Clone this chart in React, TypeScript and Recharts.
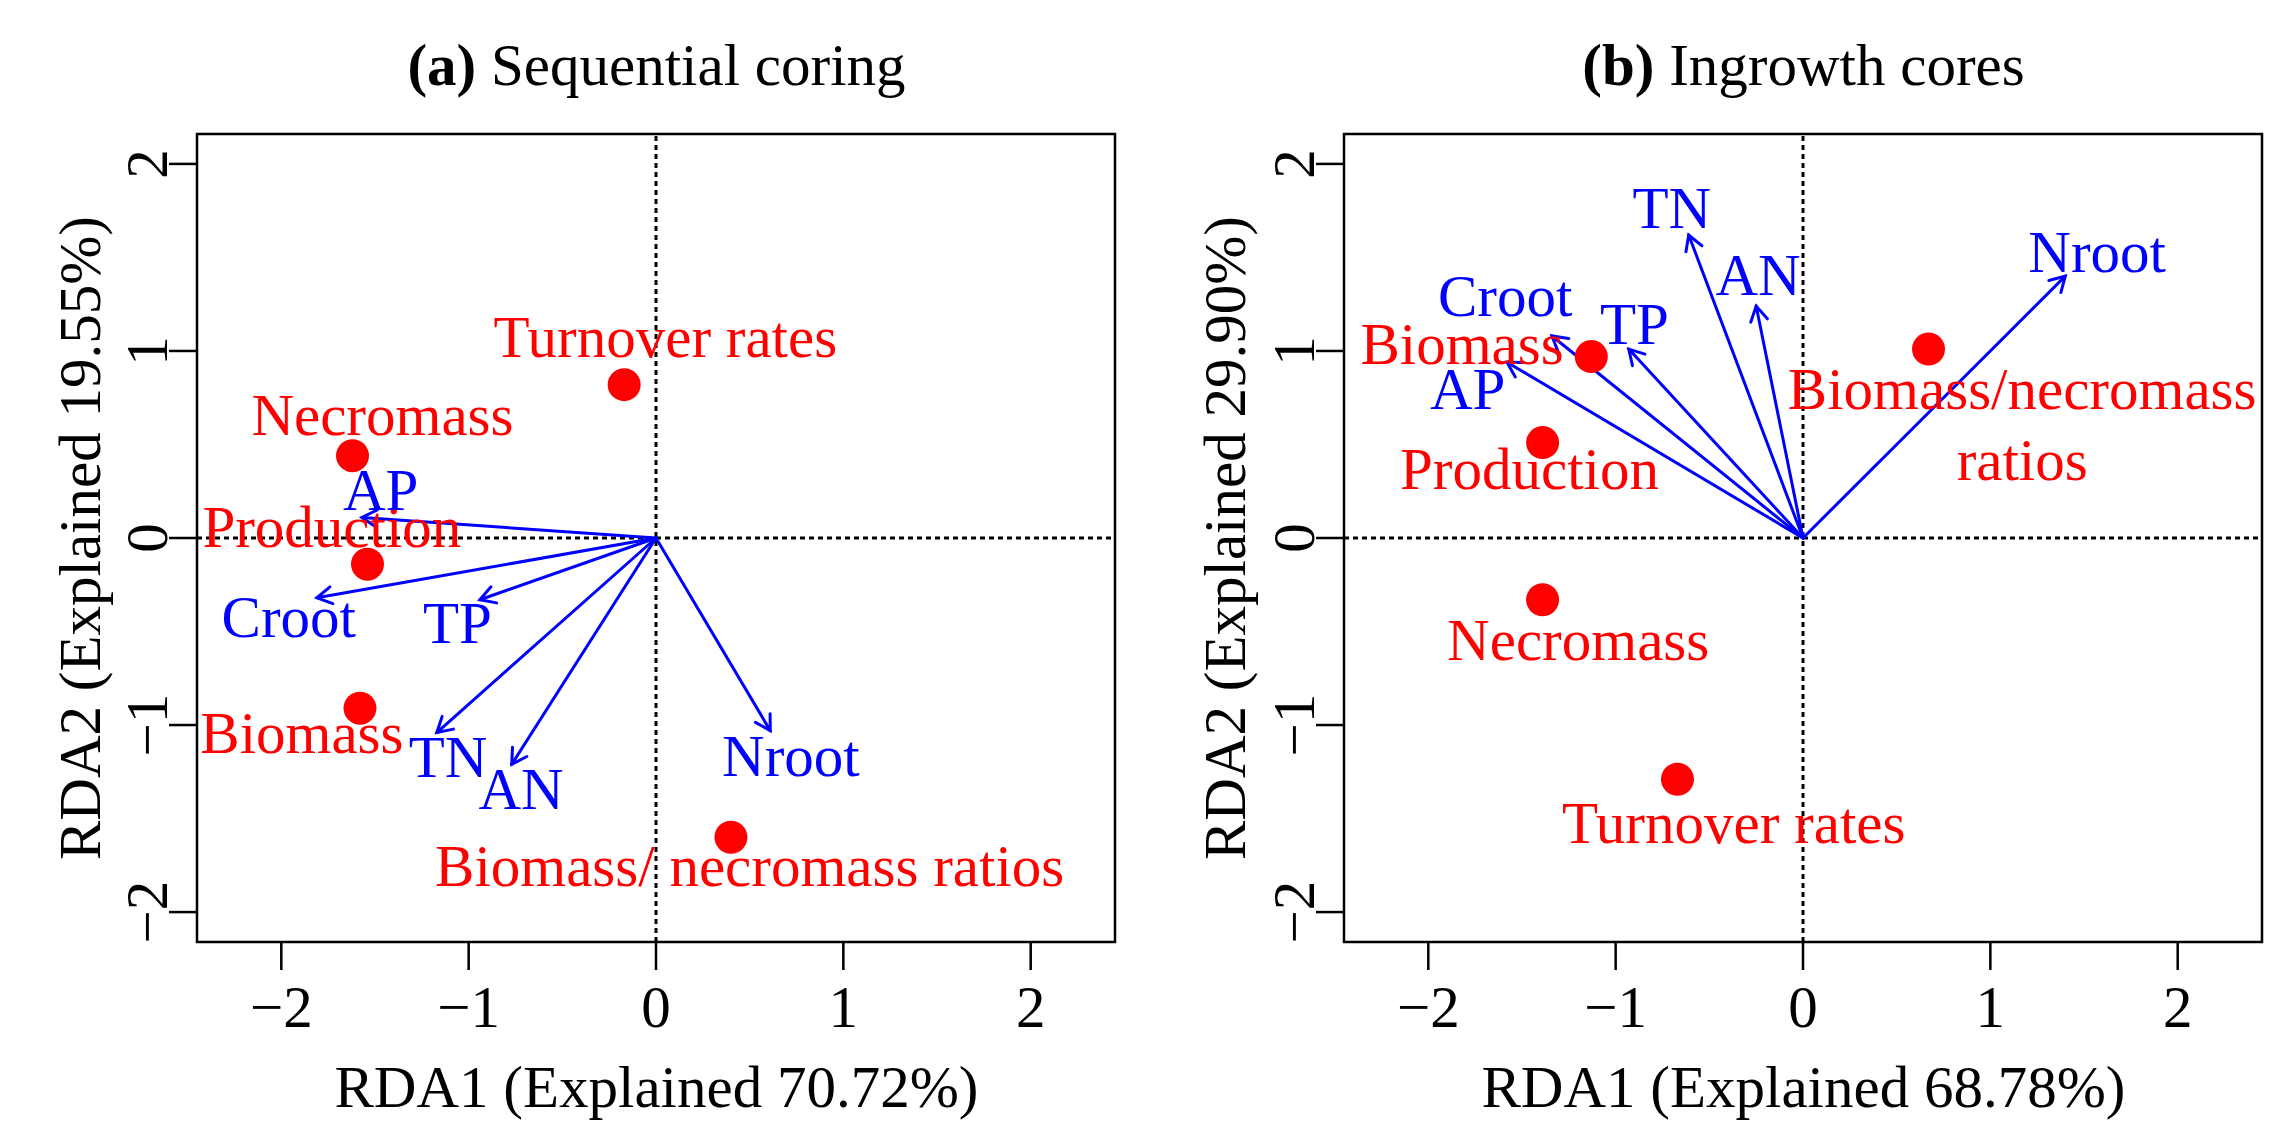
import React from "react";
import { ScatterChart, Scatter, XAxis, YAxis, ReferenceLine, ReferenceArea } from "recharts";

// (a) Sequential coring
const respNamesA = ["Turnover rates", "Necromass", "Production", "Biomass", "Biomass/ necromass ratios"];
const respXA = [-0.17, -1.62, -1.54, -1.58, 0.4];
const respYA = [0.82, 0.44, -0.14, -0.91, -1.6];
const respLabelXA = [0.05, -1.46, -1.73, -1.89, 0.5];
const respLabelYA = [1.08, 0.66, 0.06, -1.04, -1.75];

const envNamesA = ["AP", "Croot", "TP", "TN", "AN", "Nroot"];
const envXA = [-1.57, -1.81, -0.94, -1.17, -0.77, 0.61];
const envYA = [0.11, -0.32, -0.33, -1.04, -1.21, -1.03];
const envLabelXA = [-1.47, -1.96, -1.06, -1.11, -0.72, 0.72];
const envLabelYA = [0.26, -0.42, -0.45, -1.17, -1.34, -1.16];

// (b) Ingrowth cores
const respNamesB = ["Biomass", "Production", "Necromass", "Turnover rates", "Biomass/necromass\nratios"];
const respXB = [-1.13, -1.39, -1.39, -0.67, 0.67];
const respYB = [0.97, 0.51, -0.33, -1.29, 1.01];
const respLabelXB = [-1.82, -1.46, -1.2, -0.37, 1.17];
const respLabelYB = [1.04, 0.37, -0.54, -1.52, 0.61];

const envNamesB = ["Croot", "AP", "TP", "TN", "AN", "Nroot"];
const envXB = [-1.34, -1.58, -0.93, -0.61, -0.25, 1.4];
const envYB = [1.08, 0.94, 1.01, 1.62, 1.24, 1.4];
const envLabelXB = [-1.59, -1.79, -0.9, -0.7, -0.24, 1.57];
const envLabelYB = [1.3, 0.8, 1.15, 1.77, 1.41, 1.53];

const ticks = [-2, -1, 0, 1, 2];
const xDomain = [-2.45, 2.45];
const yDomain = [-2.16, 2.16];

const FONT = "'Liberation Serif', 'Times New Roman', serif";
const FS = 59;
const RED = "#ff0000";
const BLUE = "#0000ff";

const fmt = (v: number) => (v < 0 ? "\u2212" + Math.abs(v) : String(v));

const XTick = (props: any) => {
  const { x, y, payload } = props;
  return (
    <text x={x} y={y + 57} textAnchor="middle" fontSize={FS} fontFamily={FONT} fill="#000">
      {fmt(payload.value)}
    </text>
  );
};

const YTick = (props: any) => {
  const { x, y, payload } = props;
  const bx = x - 2;
  return (
    <text
      x={bx}
      y={y}
      transform={`rotate(-90, ${bx}, ${y})`}
      textAnchor="middle"
      fontSize={FS}
      fontFamily={FONT}
      fill="#000"
    >
      {fmt(payload.value)}
    </text>
  );
};

const dot = (props: any) => {
  const { cx, cy } = props;
  return <circle cx={cx} cy={cy} r={16.5} fill={RED} />;
};

const textShape = (color: string) => (props: any) => {
  const { cx, cy, payload } = props;
  const lines: string[] = String(payload.name).split("\n");
  const start = -((lines.length - 1) * 1.215) / 2;
  return (
    <text x={cx} y={cy} textAnchor="middle" fontSize={FS} fontFamily={FONT} fill={color}>
      {lines.map((l, i) => (
        <tspan key={i} x={cx} dy={i === 0 ? `${start + 0.35}em` : "1.215em"}>
          {l}
        </tspan>
      ))}
    </text>
  );
};

const arrowShape = (props: any) => {
  const { x1, y1, x2, y2 } = props;
  if ([x1, y1, x2, y2].some((v) => typeof v !== "number" || isNaN(v))) return <g />;
  const a = Math.atan2(y2 - y1, x2 - x1);
  const L = 17;
  const h1x = x2 - L * Math.cos(a - Math.PI / 6);
  const h1y = y2 - L * Math.sin(a - Math.PI / 6);
  const h2x = x2 - L * Math.cos(a + Math.PI / 6);
  const h2y = y2 - L * Math.sin(a + Math.PI / 6);
  return (
    <g stroke={BLUE} strokeWidth={3} fill="none" strokeLinecap="round">
      <line x1={x1} y1={y1} x2={x2} y2={y2} />
      <polyline points={`${h1x},${h1y} ${x2},${y2} ${h2x},${h2y}`} />
    </g>
  );
};

interface PanelProps {
  respNames: string[];
  respX: number[];
  respY: number[];
  respLabelX: number[];
  respLabelY: number[];
  envNames: string[];
  envX: number[];
  envY: number[];
  envLabelX: number[];
  envLabelY: number[];
}

function Panel(p: PanelProps) {
  const points = p.respNames.map((n, i) => ({ name: n, x: p.respX[i], y: p.respY[i] }));
  const respLabels = p.respNames.map((n, i) => ({ name: n, x: p.respLabelX[i], y: p.respLabelY[i] }));
  const envLabels = p.envNames.map((n, i) => ({ name: n, x: p.envLabelX[i], y: p.envLabelY[i] }));

  return (
    <ScatterChart width={1147} height={1144} margin={{ top: 134, right: 32, bottom: 102, left: 97 }}>
      <XAxis
        type="number"
        dataKey="x"
        domain={xDomain}
        ticks={ticks}
        allowDataOverflow
        axisLine={false}
        tickLine={{ stroke: "#000", strokeWidth: 2.5 }}
        tickSize={28}
        tickMargin={0}
        height={100}
        tick={<XTick />}
      />
      <YAxis
        type="number"
        dataKey="y"
        domain={yDomain}
        ticks={ticks}
        allowDataOverflow
        axisLine={false}
        tickLine={{ stroke: "#000", strokeWidth: 2.5 }}
        tickSize={28}
        tickMargin={0}
        width={100}
        tick={<YTick />}
      />
      <ReferenceLine x={0} stroke="#000" strokeWidth={3} strokeDasharray="5 4" />
      <ReferenceLine y={0} stroke="#000" strokeWidth={3} strokeDasharray="5 4" />
      <Scatter data={points} shape={dot} isAnimationActive={false} />
      <Scatter data={respLabels} shape={textShape(RED)} isAnimationActive={false} />
      {p.envNames.map((n, i) => (
        <ReferenceLine
          key={n}
          segment={[
            { x: 0, y: 0 },
            { x: p.envX[i], y: p.envY[i] },
          ]}
          shape={arrowShape}
        />
      ))}
      <Scatter data={envLabels} shape={textShape(BLUE)} isAnimationActive={false} />
      <ReferenceArea
        x1={xDomain[0]}
        x2={xDomain[1]}
        y1={yDomain[0]}
        y2={yDomain[1]}
        fill="none"
        fillOpacity={0}
        stroke="#000"
        strokeWidth={2.5}
      />
    </ScatterChart>
  );
}

export default function App() {
  const txt = { fontSize: FS, fontFamily: FONT, fill: "#000" } as const;
  return (
    <div style={{ position: "absolute", left: 0, top: 0, width: 2293, height: 1144, background: "#fff" }}>
      <div style={{ position: "absolute", left: 0, top: 0 }}>
        <Panel
          respNames={respNamesA}
          respX={respXA}
          respY={respYA}
          respLabelX={respLabelXA}
          respLabelY={respLabelYA}
          envNames={envNamesA}
          envX={envXA}
          envY={envYA}
          envLabelX={envLabelXA}
          envLabelY={envLabelYA}
        />
      </div>
      <div style={{ position: "absolute", left: 1147, top: 0 }}>
        <Panel
          respNames={respNamesB}
          respX={respXB}
          respY={respYB}
          respLabelX={respLabelXB}
          respLabelY={respLabelYB}
          envNames={envNamesB}
          envX={envXB}
          envY={envYB}
          envLabelX={envLabelXB}
          envLabelY={envLabelYB}
        />
      </div>
      <svg
        width={2293}
        height={1144}
        style={{ position: "absolute", left: 0, top: 0, pointerEvents: "none" }}
      >
        <text x={656.5} y={85} textAnchor="middle" {...txt}>
          <tspan fontWeight="bold">(a)</tspan> Sequential coring
        </text>
        <text x={1803.5} y={85} textAnchor="middle" {...txt}>
          <tspan fontWeight="bold">(b)</tspan> Ingrowth cores
        </text>
        <text x={656.5} y={1107} textAnchor="middle" {...txt}>
          RDA1 (Explained 70.72%)
        </text>
        <text x={1803.5} y={1107} textAnchor="middle" {...txt}>
          RDA1 (Explained 68.78%)
        </text>
        <text x={100} y={538} textAnchor="middle" transform="rotate(-90, 100, 538)" {...txt}>
          RDA2 (Explained 19.55%)
        </text>
        <text x={1245} y={538} textAnchor="middle" transform="rotate(-90, 1245, 538)" {...txt}>
          RDA2 (Explained 29.90%)
        </text>
      </svg>
    </div>
  );
}
